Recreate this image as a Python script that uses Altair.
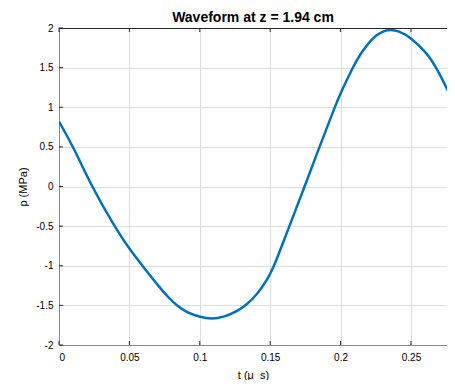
import altair as alt
import pandas as pd

t_us = [0, 0.0102, 0.0232, 0.0393, 0.05, 0.0593, 0.0717, 0.0788, 0.0836, 0.0907, 0.1006,
        0.1084, 0.1167, 0.1262, 0.1333, 0.1404, 0.1475, 0.153, 0.1636, 0.1745, 0.1850,
        0.1958, 0.2008, 0.2086, 0.2138, 0.2233, 0.2295, 0.2351, 0.2410, 0.25, 0.2611,
        0.2683, 0.2812]
p_mpa = [0.82, 0.5, 0.0, -0.5, -0.79, -1.0, -1.28, -1.42, -1.5, -1.59, -1.65,
         -1.672, -1.65, -1.58, -1.49, -1.37, -1.19, -1.0, -0.5, 0.0, 0.5,
         1.0, 1.21, 1.5, 1.67, 1.89, 1.955, 1.98, 1.965, 1.88, 1.69,
         1.5, 1.03]
x_ticks = [0, 0.05, 0.1, 0.15, 0.2, 0.25]
y_ticks = [-2, -1.5, -1, -0.5, 0, 0.5, 1, 1.5, 2]

W, H = 388, 317
XMAX = 0.2756

df = pd.DataFrame({"t": t_us, "p": p_mpa})
xt = pd.DataFrame({"t": x_ticks})
yt = pd.DataFrame({"p": y_ticks})

xscale = alt.Scale(domain=[0, XMAX], nice=False, zero=False)
yscale = alt.Scale(domain=[-2, 2], nice=False)
XTITLE = "t (μ\u00a0\u00a0s)"
YTITLE = "p (MPa)"
xaxis = alt.Axis(values=x_ticks, labelExpr="'' + datum.value", grid=True, ticks=False,
                 labelPadding=7, titlePadding=7, labelOverlap=False, titleFontWeight="normal")
yaxis = alt.Axis(values=y_ticks, labelExpr="'' + datum.value", grid=True, ticks=False,
                 labelPadding=6, titlePadding=7, labelOverlap=False, titleFontWeight="normal")

line = alt.Chart(df).mark_line(color="#0072BD", strokeWidth=2.5, interpolate="basis", clip=True).encode(
    x=alt.X("t:Q", scale=xscale, title=XTITLE, axis=xaxis),
    y=alt.Y("p:Q", scale=yscale, title=YTITLE, axis=yaxis),
)

tick_color = "#262626"
xticks_bottom = alt.Chart(xt).mark_rule(color=tick_color, strokeWidth=1).encode(
    x=alt.X("t:Q", scale=xscale, title=XTITLE, axis=xaxis), y=alt.value(H), y2=alt.value(H - 4))
xticks_top = alt.Chart(xt).mark_rule(color=tick_color, strokeWidth=1).encode(
    x=alt.X("t:Q", scale=xscale, title=XTITLE, axis=xaxis), y=alt.value(0), y2=alt.value(4))
yticks_left = alt.Chart(yt).mark_rule(color=tick_color, strokeWidth=1).encode(
    y=alt.Y("p:Q", scale=yscale, title=YTITLE, axis=yaxis), x=alt.value(0), x2=alt.value(4))
top_border = alt.Chart(xt).mark_rule(color=tick_color, strokeWidth=1).encode(
    x=alt.value(0), x2=alt.value(W), y=alt.value(0.5))

chart = alt.layer(line, xticks_bottom, xticks_top, yticks_left, top_border).properties(
    width=W, height=H,
    title=alt.TitleParams("Waveform at z = 1.94 cm", font="Liberation Sans", fontSize=14,
                          fontWeight="bold", color="#000000", offset=-2),
    autosize=alt.AutoSizeParams(type="none"),
    padding={"left": 51, "top": 20, "right": 0, "bottom": 35},
).configure_view(stroke=None).configure_axis(
    labelFont="Liberation Sans", titleFont="Liberation Sans", labelFontSize=11, titleFontSize=11.5,
    labelColor="#262626", titleColor="#262626", titleFontWeight="normal",
    domainColor="#262626", domainWidth=1, gridColor="#e5e5e5", gridWidth=1,
).configure(background="white")

chart.save("out.html", embed_options={"renderer": "svg", "actions": False})
